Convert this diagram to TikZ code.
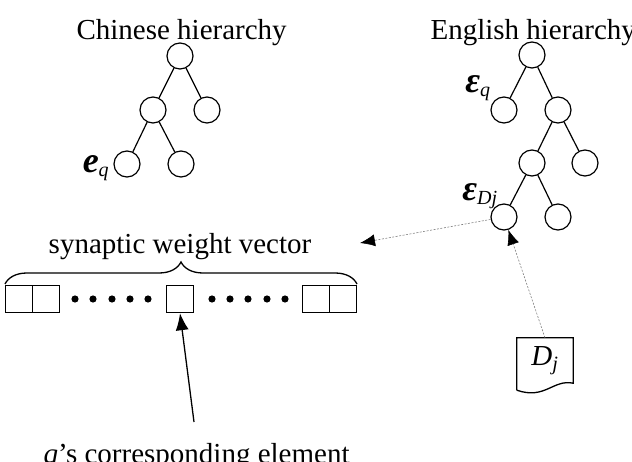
\documentclass[tikz,border=0pt]{standalone}
\usepackage{fontspec}
\setmainfont{Liberation Serif}
\usetikzlibrary{arrows.meta,decorations.pathreplacing}
\tikzset{
  vertex/.style={circle, draw, line width=1.2pt, minimum size=26pt, inner sep=0pt},
  cell/.style={draw, line width=1.4pt, minimum size=27pt, inner sep=0pt},
  edge/.style={line width=1.2pt},
  link/.style={gray, line width=0.6pt, dash pattern=on 2pt off 1.5pt,
    -{Latex[length=15pt,width=12pt,color=black]}},
  mark label/.style={font=\fontsize{36}{40}\selectfont\bfseries\itshape},
}
\begin{document}
\begin{tikzpicture}[x=1pt,y=-1pt,font=\fontsize{29}{32}\selectfont]
  \useasboundingbox (0,0) rectangle (632,462);
  % Chinese hierarchy
  \node[anchor=base west] (ctitle) at (73,40) {Chinese hierarchy};
  \node[vertex] (c0) at (180,56) {};
  \node[vertex] (c1) at (153,110) {};
  \node[vertex] (c2) at (207,110) {};
  \node[vertex] (c3) at (127,164) {};
  \node[vertex] (c4) at (181,164) {};
  \draw[edge] (c0) -- (c1);
  \draw[edge] (c0) -- (c2);
  \draw[edge] (c1) -- (c3);
  \draw[edge] (c1) -- (c4);
  \node[mark label] (cq) at (96,168) {e\textsubscript{\normalfont\itshape\fontsize{20}{22}\selectfont q}};
  % English hierarchy
  \node[anchor=base west] (etitle) at (427,40) {English hierarchy};
  \node[vertex] (e0) at (532,55) {};
  \node[vertex] (e1) at (504,110) {};
  \node[vertex] (e2) at (558,110) {};
  \node[vertex] (e3) at (532,163) {};
  \node[vertex] (e4) at (585,163) {};
  \node[vertex] (e5) at (504,217) {};
  \node[vertex] (e6) at (558,217) {};
  \draw[edge] (e0) -- (e1);
  \draw[edge] (e0) -- (e2);
  \draw[edge] (e2) -- (e3);
  \draw[edge] (e2) -- (e4);
  \draw[edge] (e3) -- (e5);
  \draw[edge] (e3) -- (e6);
  \node[mark label] (eq) at (478,88) {ε\textsubscript{\normalfont\itshape\fontsize{20}{22}\selectfont q}};
  \node[mark label] (edj) at (480,196) {ε\textsubscript{\normalfont\itshape\fontsize{20}{22}\selectfont Dj}};
  % synaptic weight vector
  \node[anchor=base] (svec) at (180,254) {synaptic weight vector};
  \node[cell] (v1) at (19,299) {};
  \node[cell] (v2) at (46,299) {};
  \node[cell] (vm) at (180,299) {};
  \node[cell] (v3) at (316,299) {};
  \node[cell] (v4) at (343,299) {};
  \foreach \x in {75,93,112,130,148,212,230,248,267,285}
    \fill (\x,299) circle (3.6);
  \draw[decorate, decoration={brace, amplitude=22pt}, line width=1.3pt]
    (5,284) -- (357,284);
  \coordinate (wv) at (360,243);
  \coordinate (ptr) at (194,422);
  \draw[line width=1.3pt, -{Latex[length=17pt,width=13pt]}] (ptr) -- (vm.south);
  \node[anchor=base west] (elem) at (40,463) {\textit{q}’s corresponding element};
  % document D_j
  \node[minimum width=56pt, minimum height=45pt, inner sep=0pt] (dj) at (545,360.5)
    {\textit{D}\textsubscript{\textit{j}}};
  \draw[line width=1.3pt] ([yshift=-7pt]dj.south west) -- (dj.north west) -- (dj.north east)
    -- (dj.south east) .. controls (553,379) and (545,400) .. ([yshift=-7pt]dj.south west);
  \draw[link] (dj.north) -- (e5);
  \draw[link] (e5) -- (wv);
\end{tikzpicture}
\end{document}
